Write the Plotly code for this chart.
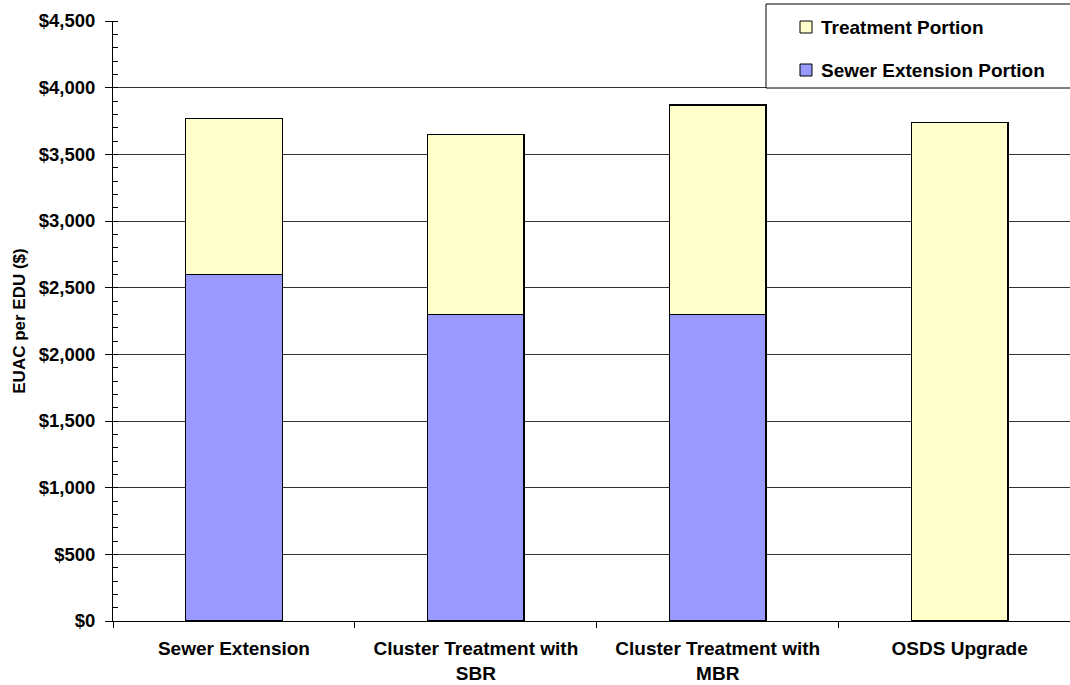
import plotly.graph_objects as go

# Equivalent uniform annual cost per EDU, split into the two cost components
categories = ["Sewer Extension", "Cluster Treatment with<br>SBR",
              "Cluster Treatment with<br>MBR", "OSDS Upgrade"]
sewer_portion = [2600, 2300, 2300, 0]
treatment_portion = [1170, 1350, 1570, 3740]
y_tickvals = [0, 500, 1000, 1500, 2000, 2500, 3000, 3500, 4000, 4500]
y_ticktext = ["$0", "$500", "$1,000", "$1,500", "$2,000", "$2,500",
              "$3,000", "$3,500", "$4,000", "$4,500"]

SEWER_COLOR = "#9999FF"
TREAT_COLOR = "#FFFFCC"
FONT = "Arial, Liberation Sans, sans-serif"

fig = go.Figure()
fig.add_trace(go.Bar(
    x=categories, y=sewer_portion, name="Sewer Extension Portion",
    marker=dict(color=SEWER_COLOR, line=dict(color="black", width=1.5)),
    width=0.4, showlegend=False,
))
fig.add_trace(go.Bar(
    x=categories, y=treatment_portion, name="Treatment Portion",
    marker=dict(color=TREAT_COLOR, line=dict(color="black", width=1.5)),
    width=0.4, showlegend=False,
))

# plot area: left edge at 113 px, 600 px tall, one category every ~242 px
L, T, B = 113, 21, 64
plot_w = 1070 - L
cat_px = 241.9

fig.update_layout(
    barmode="stack",
    width=1070, height=685,
    margin=dict(l=L, r=0, t=T, b=B, pad=0),
    paper_bgcolor="white", plot_bgcolor="white",
    font=dict(family=FONT, size=18, color="black", weight="bold"),
    xaxis=dict(
        range=[-0.5, -0.5 + plot_w / cat_px],
        showline=True, linecolor="black", linewidth=1,
        ticks="outside", tickson="boundaries", ticklen=6, tickcolor="black",
        tickfont=dict(family=FONT, size=19, weight="bold"),
        ticklabelstandoff=10,
        showgrid=False,
    ),
    yaxis=dict(
        range=[0, 4500],
        tickvals=y_tickvals, ticktext=y_ticktext,
        showline=True, linecolor="black", linewidth=1,
        ticks="outside", ticklen=7, tickcolor="black",
        showgrid=True, gridcolor="#333333", gridwidth=1,
        zeroline=False,
        tickfont=dict(family=FONT, size=18.5, weight="bold"),
        ticklabelstandoff=6,
        minor=dict(dtick=100, ticks="inside", ticklen=5, tickcolor="black",
                   showgrid=False),
        title=dict(text="EUAC per EDU ($)", standoff=8,
                   font=dict(family=FONT, size=17, weight="bold")),
    ),
)

# legend box in the top-right corner
def px_x(px):
    return (px - L) / plot_w

def px_y(py):
    return (685 - B - py) / (685 - T - B)

fig.add_shape(type="rect", xref="paper", yref="paper",
              x0=px_x(766), x1=px_x(1080), y0=px_y(88), y1=px_y(4),
              line=dict(color="black", width=1), fillcolor="white", layer="above")

legend_items = [("Treatment Portion", TREAT_COLOR, 27),
                ("Sewer Extension Portion", SEWER_COLOR, 70)]
for label, color, cy in legend_items:
    fig.add_shape(type="rect", xref="paper", yref="paper",
                  x0=px_x(800), x1=px_x(812), y0=px_y(cy + 6), y1=px_y(cy - 6),
                  line=dict(color="black", width=1), fillcolor=color, layer="above")
    fig.add_annotation(text=label, xref="paper", yref="paper",
                       x=px_x(819), y=px_y(cy), xanchor="left", yanchor="middle",
                       showarrow=False,
                       font=dict(family=FONT, size=19, color="black", weight="bold"))

fig.write_html("out.html")
